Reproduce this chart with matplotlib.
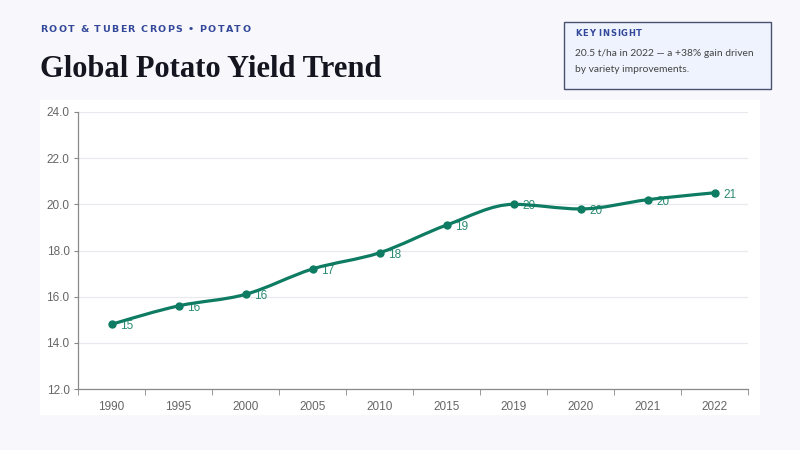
import numpy as np
import matplotlib.pyplot as plt
from matplotlib.path import Path
from matplotlib.patches import PathPatch, Rectangle

years = ["1990", "1995", "2000", "2005", "2010", "2015", "2019", "2020", "2021", "2022"]
yield_t_ha = [14.8, 15.6, 16.1, 17.2, 17.9, 19.1, 20.0, 19.8, 20.2, 20.5]
y_ticks = [12, 14, 16, 18, 20, 22, 24]

kicker = "ROOT & TUBER CROPS \u2022 POTATO"
title = "Global Potato Yield Trend"
insight_head = "KEY INSIGHT"
insight_body = ["20.5 t/ha in 2022 \u2014 a +38% gain driven", "by variety improvements."]

GREEN = "#0e7c62"
BG = "#f8f8fc"


def monotone_path(x, y):
    # d3 curveMonotoneX as cubic bezier segments
    x = np.asarray(x, float)
    y = np.asarray(y, float)
    n = len(x)
    h = np.diff(x)
    s = np.diff(y) / h
    t = np.zeros(n)
    for i in range(1, n - 1):
        p = (s[i - 1] * h[i] + s[i] * h[i - 1]) / (h[i - 1] + h[i])
        t[i] = (np.sign(s[i - 1]) + np.sign(s[i])) * min(abs(s[i - 1]), abs(s[i]), 0.5 * abs(p))
    t[0] = (3 * s[0] - t[1]) / 2
    t[-1] = (3 * s[-1] - t[-2]) / 2
    verts = [(x[0], y[0])]
    codes = [Path.MOVETO]
    for i in range(n - 1):
        dx = h[i] / 3
        verts += [(x[i] + dx, y[i] + dx * t[i]), (x[i + 1] - dx, y[i + 1] - dx * t[i + 1]), (x[i + 1], y[i + 1])]
        codes += [Path.CURVE4] * 3
    return Path(verts, codes)


def spaced_text(fig, x, y, s, spacing, **kw):
    r = fig.canvas.get_renderer()
    cur = x
    for ch in s:
        t = fig.text(cur, y, ch, **kw)
        w = t.get_window_extent(renderer=r).width
        if ch == " ":
            w = t.get_fontsize() * 0.3 * fig.dpi / 72
        cur += (w + spacing) / (fig.get_figwidth() * fig.dpi)


fig = plt.figure(figsize=(8, 4.5), dpi=100)
fig.patch.set_facecolor(BG)

# white chart panel
panel = fig.add_axes([40 / 800, 1 - 415 / 450, 720 / 800, 315 / 450], zorder=-1)
panel.axis("off")
panel.add_patch(Rectangle((0, 0), 1, 1, transform=panel.transAxes, facecolor="white", edgecolor="none"))

ax = fig.add_axes([78 / 800, 1 - 389 / 450, 670 / 800, 277 / 450])
ax.set_facecolor("white")
xs = np.arange(len(years))

ax.add_patch(PathPatch(monotone_path(xs, yield_t_ha), facecolor="none", edgecolor=GREEN,
                       lw=2.3, capstyle="round", joinstyle="round", zorder=3))
ax.plot(xs, yield_t_ha, "o", color=GREEN, ms=5, zorder=4)
for i, v in enumerate(yield_t_ha):
    ax.annotate(str(int(np.floor(v + 0.5))), (i, v), xytext=(9, -2), textcoords="offset pixels",
                ha="left", va="center", fontsize=8.5, family="Liberation Sans",
                color="#2a8a72", zorder=2)

ax.set_xlim(-0.5, len(years) - 0.5)
ax.set_ylim(12, 24)
ax.set_yticks(y_ticks)
ax.set_yticklabels([f"{v:.1f}" for v in y_ticks])
ax.set_xticks(xs)
ax.set_xticklabels(years)
ax.set_xticks(np.arange(-0.5, len(years)), minor=True)
ax.tick_params(axis="x", which="major", length=0, pad=9, labelsize=8.5, labelcolor="#666666")
ax.tick_params(axis="x", which="minor", length=4, color="#888888")
ax.tick_params(axis="y", length=3, color="#888888", pad=3, labelsize=8.5, labelcolor="#666666")
for lab in ax.get_xticklabels() + ax.get_yticklabels():
    lab.set_family("Liberation Sans")
ax.grid(axis="y", color="#e9e9f0", lw=0.9)
ax.set_axisbelow(True)
for side in ["top", "right"]:
    ax.spines[side].set_visible(False)
for side in ["left", "bottom"]:
    ax.spines[side].set_color("#8a8a8a")
    ax.spines[side].set_linewidth(0.9)

# header
spaced_text(fig, 40 / 800, 1 - 32 / 450, kicker, 1.4, fontsize=6.8, fontweight="bold",
            color="#34489a", va="baseline")
fig.text(40 / 800, 1 - 77 / 450, title, fontsize=22, fontweight="bold",
         family="Liberation Serif", color="#15151f", va="baseline")

# insight box
fig.patches.append(Rectangle((564 / 800, 1 - 89 / 450), 207 / 800, 67 / 450, transform=fig.transFigure,
                             facecolor="#eef3fd", edgecolor="#4a5070", lw=1.0, zorder=1))
spaced_text(fig, 575 / 800, 1 - 36 / 450, insight_head, 0.8, fontsize=6, fontweight="bold",
            color="#34489a", va="baseline", zorder=2)
for k, line in enumerate(insight_body):
    fig.text(575 / 800, 1 - (56 + 16 * k) / 450, line, fontsize=7.4, family="Lato",
             color="#444444", va="baseline", zorder=2)

fig.savefig("out.png", dpi=100, facecolor=BG)
